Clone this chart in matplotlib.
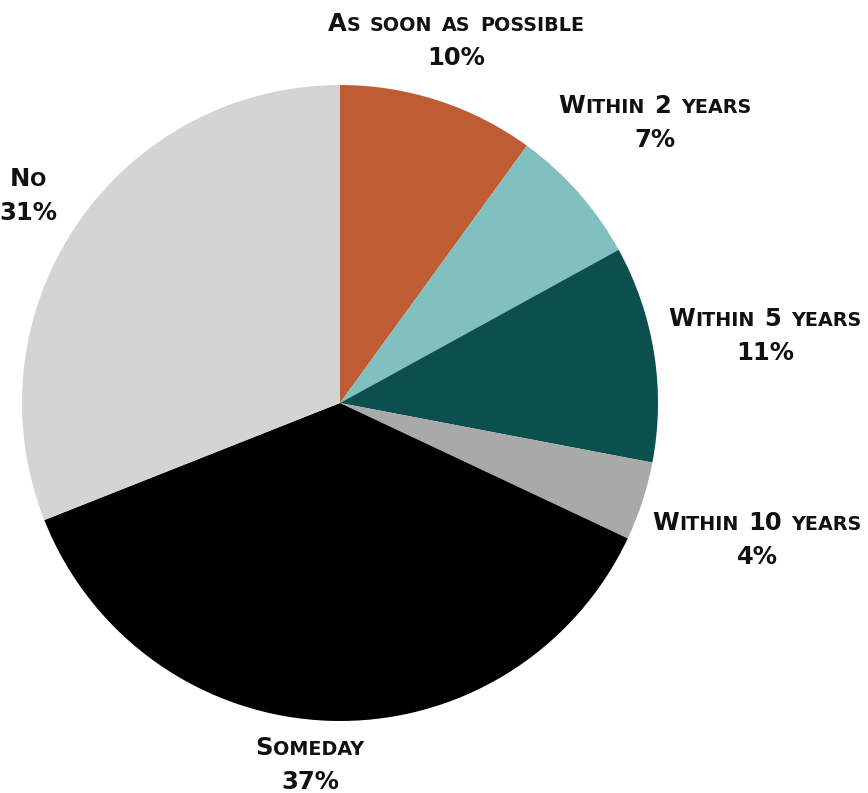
import matplotlib
matplotlib.use("Agg")
import matplotlib.pyplot as plt
from matplotlib.offsetbox import TextArea, HPacker, VPacker, AnnotationBbox

labels = ["As soon as possible", "Within 2 years", "Within 5 years",
          "Within 10 years", "Someday", "No"]
values = [10, 7, 11, 4, 37, 31]
colors = ["#C05C33", "#80C0BE", "#0B504D", "#A9A9A9", "#000000", "#D4D4D4"]

# label centres in figure pixels (origin bottom-left), one per slice
label_pos = [(456, 752), (655, 670), (765, 457), (757, 253), (310, 28), (28, 597)]

W, H = 868, 793
BIG, SMALL = 17.5, 13.8


def small_caps(word):
    # split a word into runs of big (capitals, digits, %) and small letters
    runs = []
    for ch in word:
        big = not ch.islower()
        if runs and runs[-1][1] == big:
            runs[-1][0] += ch.upper()
        else:
            runs.append([ch.upper(), big])
    boxes = [TextArea(t, textprops=dict(fontsize=BIG if b else SMALL,
                                         fontweight="bold", family="DejaVu Sans",
                                         color="#111111"))
             for t, b in runs]
    return HPacker(children=boxes, align="baseline", pad=0, sep=0)


def label_box(text, pct):
    words = [small_caps(w) for w in text.split()]
    line1 = HPacker(children=words, align="baseline", pad=0, sep=7)
    line2 = small_caps(f"{pct}%")
    return VPacker(children=[line1, line2], align="center", pad=0, sep=7)


fig = plt.figure(figsize=(W / 100, H / 100), dpi=100)
ax = fig.add_axes([0, 0, 1, 1])
ax.set_xlim(0, W)
ax.set_ylim(0, H)
ax.set_aspect("equal")

ax.pie(values, colors=colors, startangle=90, counterclock=False,
       center=(340, H - 403), radius=318, frame=True,
       wedgeprops=dict(linewidth=0))
ax.axis("off")
ax.set_xlim(0, W)
ax.set_ylim(0, H)

for text, pct, (x, y) in zip(labels, values, label_pos):
    ab = AnnotationBbox(label_box(text, pct), (x, y), xycoords="figure pixels",
                        frameon=False, box_alignment=(0.5, 0.5), pad=0)
    ax.add_artist(ab)

fig.savefig("out.png", dpi=100, facecolor="white")
